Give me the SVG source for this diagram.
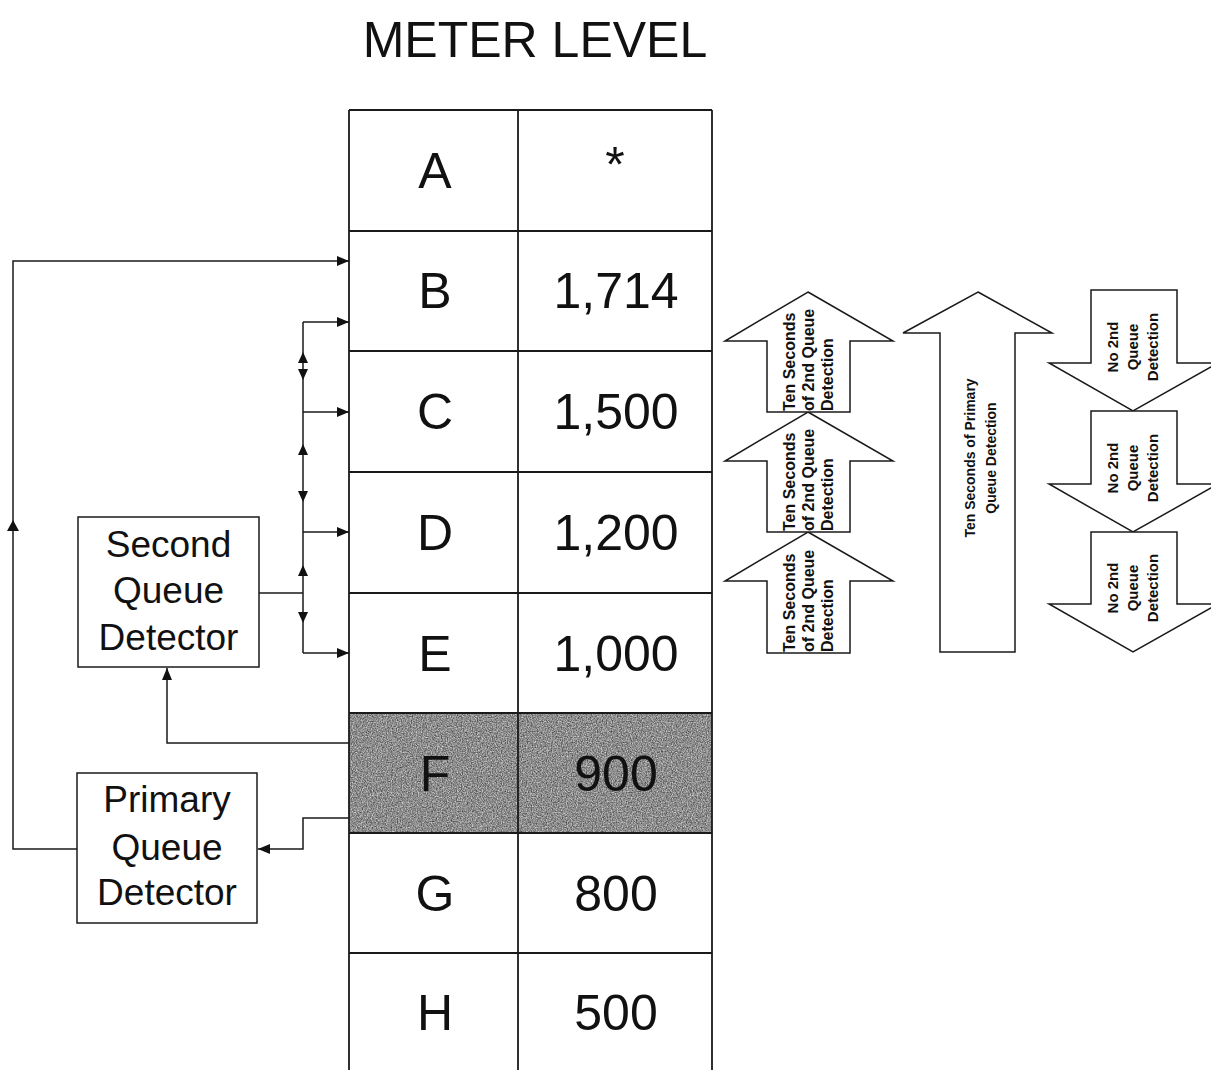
<svg xmlns="http://www.w3.org/2000/svg" width="1211" height="1070" viewBox="0 0 1211 1070">
<defs>
<marker id="ah" viewBox="0 0 12 10" refX="12" refY="5" markerWidth="12" markerHeight="10" markerUnits="userSpaceOnUse" orient="auto"><path d="M0,0 L12,5 L0,10 z" fill="#111"/></marker>
<filter id="grain" x="0" y="0" width="100%" height="100%" color-interpolation-filters="sRGB">
<feTurbulence type="fractalNoise" baseFrequency="0.8" numOctaves="2" seed="3" result="n"/>
<feColorMatrix in="n" type="matrix" values="0.8 0 0 0 0.15  0.8 0 0 0 0.15  0.8 0 0 0 0.15  0 0 0 0 1" result="g"/>
<feComposite in="g" in2="SourceGraphic" operator="in"/>
</filter>
<style>
.ln{fill:none;stroke:#1a1a1a;stroke-width:1.5}
.tb{fill:none;stroke:#1a1a1a;stroke-width:1.8}
.hd{fill:#111;stroke:none}
.cell{font-family:"Liberation Sans",Arial,sans-serif;font-size:50px;fill:#111;text-anchor:middle}
.title{font-family:"Liberation Sans",Arial,sans-serif;font-size:50px;fill:#111;text-anchor:middle}
.box{fill:#fff;stroke:#1a1a1a;stroke-width:1.5}
.bt{font-family:"Liberation Sans",Arial,sans-serif;font-size:37px;fill:#111;text-anchor:middle}
.blk{fill:#fff;stroke:#1a1a1a;stroke-width:1.5}
.t16{font-family:"Liberation Sans",Arial,sans-serif;font-weight:bold;font-size:16px;fill:#111}
.t14{font-family:"Liberation Sans",Arial,sans-serif;font-weight:bold;font-size:14px;fill:#111;text-anchor:middle}
.t15{font-family:"Liberation Sans",Arial,sans-serif;font-weight:bold;font-size:15px;fill:#111;text-anchor:middle}
</style>
</defs>
<rect width="1211" height="1070" fill="#fff"/>
<text class="title" x="535" y="57">METER LEVEL</text>

<g id="table">
<rect x="349" y="713" width="363" height="120" fill="#8f8f8f" filter="url(#grain)"/>
<path class="tb" d="M349,110 H712 M349,231 H712 M349,351 H712 M349,472 H712 M349,593 H712 M349,713 H712 M349,833 H712 M349,953 H712 M349,110 V1070 M518,110 V1070 M712,110 V1070"/>
</g>
<g id="row-a"><text class="cell" x="435" y="188">A</text><text class="cell" x="615" y="182">*</text></g>
<g id="row-b"><text class="cell" x="435" y="308">B</text><text class="cell" x="616" y="308">1,714</text></g>
<g id="row-c"><text class="cell" x="435" y="429">C</text><text class="cell" x="616" y="429">1,500</text></g>
<g id="row-d"><text class="cell" x="435" y="550">D</text><text class="cell" x="616" y="550">1,200</text></g>
<g id="row-e"><text class="cell" x="435" y="671">E</text><text class="cell" x="616" y="671">1,000</text></g>
<g id="row-f"><text class="cell" x="435" y="791">F</text><text class="cell" x="616" y="791">900</text></g>
<g id="row-g"><text class="cell" x="435" y="911">G</text><text class="cell" x="616" y="911">800</text></g>
<g id="row-h"><text class="cell" x="435" y="1030">H</text><text class="cell" x="616" y="1030">500</text></g>

<g id="second-queue-detector">
<rect class="box" x="78" y="517" width="181" height="150"/>
<text class="bt" x="168.5" y="557">Second</text>
<text class="bt" x="168.5" y="603">Queue</text>
<text class="bt" x="168.5" y="650">Detector</text>
</g>
<g id="primary-queue-detector">
<rect class="box" x="77" y="773" width="180" height="150"/>
<text class="bt" x="167" y="812">Primary</text>
<text class="bt" x="167" y="860">Queue</text>
<text class="bt" x="167" y="905">Detector</text>
</g>

<g id="connectors">
<path class="ln" d="M77,849 H13 V261 H349" marker-end="url(#ah)"/>
<polygon class="hd" points="13,520 7,531 19,531"/>
<path class="ln" d="M349,743 H167 V668" marker-end="url(#ah)"/>
<path class="ln" d="M349,818 H303 V849 H258" marker-end="url(#ah)"/>
<path class="ln" d="M259,593 H303 M303,322 V653"/>
<path class="ln" d="M303,322 H349" marker-end="url(#ah)"/>
<path class="ln" d="M303,412 H349" marker-end="url(#ah)"/>
<path class="ln" d="M303,532 H349" marker-end="url(#ah)"/>
<path class="ln" d="M303,653 H349" marker-end="url(#ah)"/>
<polygon class="hd" points="303,352 298,363 308,363"/>
<polygon class="hd" points="303,380 298,369 308,369"/>
<polygon class="hd" points="303,444 298,455 308,455"/>
<polygon class="hd" points="303,502 298,491 308,491"/>
<polygon class="hd" points="303,565 298,576 308,576"/>
<polygon class="hd" points="303,623 298,612 308,612"/>
</g>

<g id="up-arrow-3">
<polygon class="blk" points="808,532 893,581 850,581 850,653 767,653 767,581 725,581"/>
<g class="t16"><text transform="translate(795,652) rotate(-90)">Ten Seconds</text><text transform="translate(814,652) rotate(-90)">of 2nd Queue</text><text transform="translate(833,652) rotate(-90)">Detection</text></g>
</g>
<g id="up-arrow-2">
<polygon class="blk" points="808,412 893,461 850,461 850,532 767,532 767,461 725,461"/>
<g class="t16"><text transform="translate(795,531) rotate(-90)">Ten Seconds</text><text transform="translate(814,531) rotate(-90)">of 2nd Queue</text><text transform="translate(833,531) rotate(-90)">Detection</text></g>
</g>
<g id="up-arrow-1">
<polygon class="blk" points="808,292 893,341 850,341 850,412 767,412 767,341 725,341"/>
<g class="t16"><text transform="translate(795,411) rotate(-90)">Ten Seconds</text><text transform="translate(814,411) rotate(-90)">of 2nd Queue</text><text transform="translate(833,411) rotate(-90)">Detection</text></g>
</g>

<g id="primary-arrow">
<polygon class="blk" points="978,292 1052,333 1015,333 1015,652 940,652 940,333 903,333"/>
<text class="t14" transform="translate(975,458) rotate(-90)">Ten Seconds of Primary</text>
<text class="t14" transform="translate(996,458) rotate(-90)">Queue Detection</text>
</g>

<g id="down-arrow-1">
<polygon class="blk" points="1091,290 1177,290 1177,363 1218,363 1133,411 1049,363 1091,363"/>
<text class="t15" transform="translate(1118,347) rotate(-90)">No 2nd</text>
<text class="t15" transform="translate(1138,347) rotate(-90)">Queue</text>
<text class="t15" transform="translate(1158,347) rotate(-90)">Detection</text>
</g>
<g id="down-arrow-2">
<polygon class="blk" points="1091,411 1177,411 1177,484 1218,484 1133,532 1049,484 1091,484"/>
<text class="t15" transform="translate(1118,468) rotate(-90)">No 2nd</text>
<text class="t15" transform="translate(1138,468) rotate(-90)">Queue</text>
<text class="t15" transform="translate(1158,468) rotate(-90)">Detection</text>
</g>
<g id="down-arrow-3">
<polygon class="blk" points="1091,532 1177,532 1177,604 1218,604 1133,652 1049,604 1091,604"/>
<text class="t15" transform="translate(1118,588) rotate(-90)">No 2nd</text>
<text class="t15" transform="translate(1138,588) rotate(-90)">Queue</text>
<text class="t15" transform="translate(1158,588) rotate(-90)">Detection</text>
</g>
</svg>
